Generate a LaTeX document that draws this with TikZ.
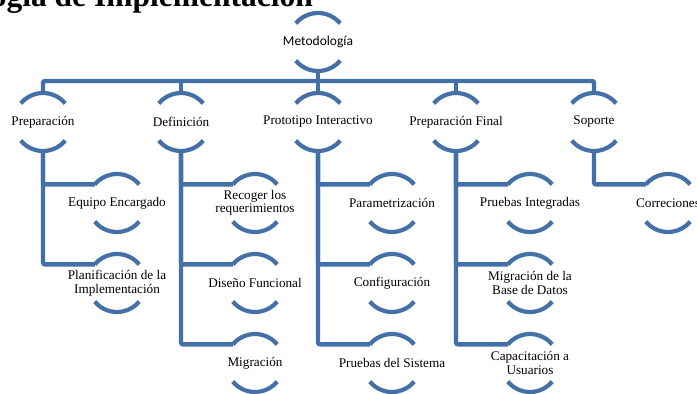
\documentclass[tikz,border=0pt]{standalone}
\usepackage{fontspec}
\setmainfont{Liberation Serif}
\newfontfamily\hubsans{Carlito}
\definecolor{hierblue}{RGB}{67,112,166}

% a hub: an invisible circle carrying the label, framed by an upper and a lower arc
\newcommand\hub[3]{%
  \node[hubshape] (#1) at (#2) {};
  \node[lbl] (#1-t) at (#1) {#3};
  \draw[ring] (#1.40) arc[start angle=40,end angle=140,radius=29pt];
  \draw[ring] (#1.220) arc[start angle=220,end angle=320,radius=29pt];
}

\begin{document}
\begin{tikzpicture}[x=1pt,y=-1pt,
  hubshape/.style={circle,minimum size=58pt,inner sep=0pt,outer sep=0pt},
  ring/.style={draw=hierblue,line width=4.2pt},
  conn/.style={draw=hierblue,line width=4.4pt,rounded corners=2pt},
  lbl/.style={font=\fontsize{13.2}{13.6}\selectfont,align=center,text=black,inner sep=0pt}]
\useasboundingbox (0,0) rectangle (697,394);
\clip (0,0) rectangle (697,394);

% heading of the page, partly above the top edge
\node[anchor=base east,inner sep=0pt,font=\bfseries\fontsize{31.5}{36}\selectfont] (title) at (313,6.5) {Metodología de Implementación};

% root and first level
\hub{meto}{318,42}{\hubsans\fontsize{13.5}{14}\selectfont Metodología}
\hub{prep}{43,122}{Preparación}
\hub{defi}{181,122}{Definición}
\hub{proto}{318,122}{Prototipo Interactivo}
\hub{pfin}{456,122}{Preparación Final}
\hub{sop}{594,122}{Soporte}

% second level
\hub{eq}{117,203}{Equipo Encargado}
\hub{plan}{117,283}{Planificación de la\\Implementación}
\hub{rec}{255,203}{Recoger los\\requerimientos}
\hub{dis}{255,283}{Diseño Funcional}
\hub{mig}{255,363}{Migración}
\hub{par}{392,203}{Parametrización}
\hub{conf}{392,283}{Configuración}
\hub{psis}{392,363}{Pruebas del Sistema}
\hub{pint}{530,203}{Pruebas Integradas}
\hub{mbd}{530,283}{Migración de la\\Base de Datos}
\hub{cap}{530,363}{Capacitación a\\Usuarios}
\hub{corr}{668,203}{Correciones}

% bus below the root
\coordinate (bus) at (318,81);
\draw[conn] (prep.north) |- (bus) -| (sop.north);
\draw[conn] (defi.north) -- (defi.north |- bus);
\draw[conn] (pfin.north) -- (pfin.north |- bus);
\draw[conn] (meto.south) -- (proto.north);

% branches to the second level
\draw[conn] (prep.south) |- (eq.140);
\draw[conn] (prep.south) |- (plan.140);
\draw[conn] (defi.south) |- (rec.140);
\draw[conn] (defi.south) |- (dis.140);
\draw[conn] (defi.south) |- (mig.140);
\draw[conn] (proto.south) |- (par.140);
\draw[conn] (proto.south) |- (conf.140);
\draw[conn] (proto.south) |- (psis.140);
\draw[conn] (pfin.south) |- (pint.140);
\draw[conn] (pfin.south) |- (mbd.140);
\draw[conn] (pfin.south) |- (cap.140);
\draw[conn] (sop.south) |- (corr.140);
\end{tikzpicture}
\end{document}
